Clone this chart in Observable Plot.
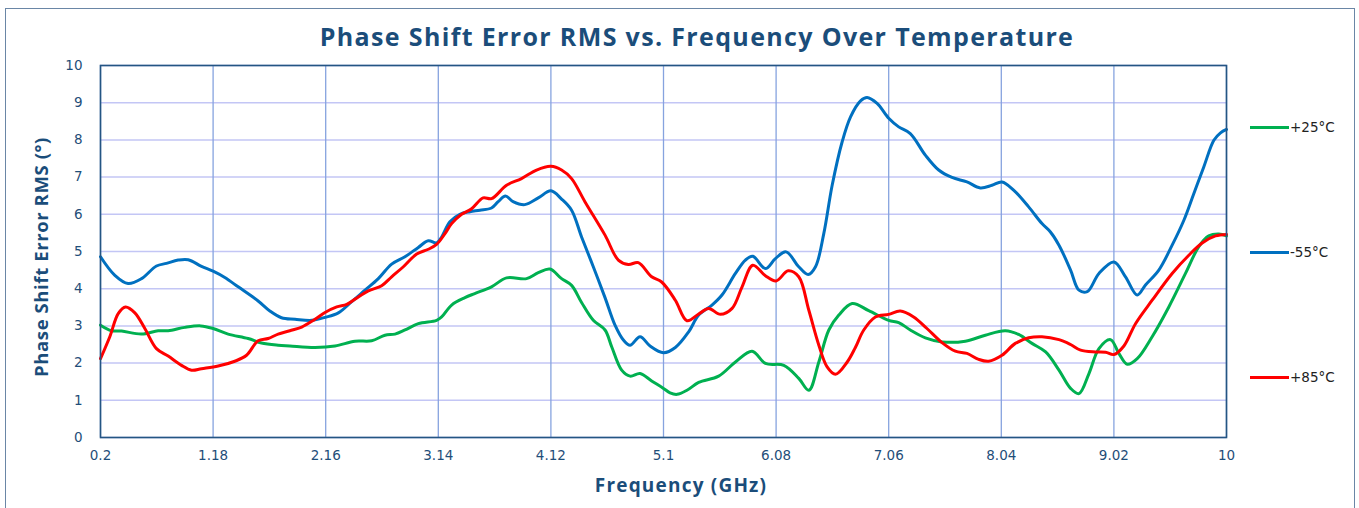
<!DOCTYPE html>
<html>
<head>
<meta charset="utf-8">
<script src="https://cdn.jsdelivr.net/npm/d3@7"></script>
<script src="https://cdn.jsdelivr.net/npm/@observablehq/plot@0.6"></script>
<style>
  html, body { margin: 0; padding: 0; background: #fff; }
  #wrap { position: relative; width: 1359px; height: 508px; overflow: hidden; }
  #border { position: absolute; left: 5px; top: 8px; width: 1350px; height: 540px; border: 1.5px solid #6a86a6; box-sizing: border-box; }
  #title { position: absolute; left: 0; width: 1394px; top: 19px; text-align: center; font-family: "Open Sans", sans-serif; font-weight: 700; font-size: 25px; letter-spacing: 1.35px; color: #1b4d7a; white-space: nowrap; }
  #xlabel { position: absolute; left: 0; width: 1362px; top: 472px; text-align: center; font-family: "Open Sans", sans-serif; font-weight: 700; font-size: 19px; letter-spacing: 1.2px; color: #1b4d7a; }
  #ylabel { position: absolute; left: 40px; top: 257px; transform: translate(-50%, -50%) rotate(-90deg); font-family: "Open Sans", sans-serif; font-weight: 700; font-size: 18.5px; letter-spacing: 0.6px; color: #1b4d7a; white-space: nowrap; }
  #chart { position: absolute; left: 0; top: 0; }
  .leg { position: absolute; left: 1250px; font-family: "DejaVu Sans", sans-serif; font-size: 13.5px; color: #222; display: flex; align-items: center; white-space: nowrap; }
  .leg span.sw { display: inline-block; width: 39px; height: 3px; margin-right: 1px; }
</style>
</head>
<body>
<div id="wrap">
  <div id="border"></div>
  <div id="chart"></div>
  <div id="title"></div>
  <div id="xlabel"></div>
  <div id="ylabel"></div>
  <div id="legend"></div>
</div>
<script>
const chartTitle = "Phase Shift Error RMS vs. Frequency Over Temperature";
const xTitle = "Frequency (GHz)";
const yTitle = "Phase Shift Error RMS (°)";

const xTicks = [0.2, 1.18, 2.16, 3.14, 4.12, 5.1, 6.08, 7.06, 8.04, 9.02, 10];
const xTickLabels = ["0.2", "1.18", "2.16", "3.14", "4.12", "5.1", "6.08", "7.06", "8.04", "9.02", "10"];
const yTicks = [0, 1, 2, 3, 4, 5, 6, 7, 8, 9, 10];

const seriesNames = ["+25°C", "-55°C", "+85°C"];
const seriesColors = ["#00b050", "#0070c0", "#ff0000"];

// +25°C
const freq25 = [0.2,0.296,0.383,0.557,0.702,0.789,0.934,1.073,1.18,1.311,1.485,1.601,1.746,1.848,
  2.067,2.241,2.415,2.56,2.676,2.763,2.85,2.966,3.125,3.169,3.256,3.372,3.457,
  3.603,3.734,3.908,4.01,4.111,4.213,4.3,4.387,4.489,4.591,4.649,4.736,4.809,4.896,4.997,5.1,5.157,
  5.218,5.304,5.406,5.58,5.726,5.871,5.987,6.147,6.277,6.365,6.452,6.539,6.626,6.742,
  6.886,7.06,7.147,7.248,7.379,7.524,7.727,7.901,8.075,8.191,8.307,8.426,
  8.542,8.643,8.716,8.803,8.89,8.991,9.063,9.136,9.223,9.353,9.498,9.643,9.759,9.846,9.933,10];
const val25 = [3.02,2.87,2.86,2.78,2.87,2.87,2.96,3.0,2.93,2.78,2.66,2.54,2.48,2.46,
  2.42,2.46,2.59,2.6,2.75,2.78,2.89,3.06,3.15,3.24,3.56,3.76,3.87,
  4.05,4.29,4.27,4.43,4.53,4.27,4.09,3.63,3.15,2.89,2.44,1.81,1.65,1.72,1.52,1.32,1.2,
  1.16,1.27,1.48,1.65,2.03,2.32,1.99,1.94,1.59,1.27,2.03,2.89,3.29,3.6,
  3.41,3.15,3.09,2.89,2.68,2.57,2.59,2.75,2.87,2.77,2.53,2.3,
  1.81,1.32,1.18,1.72,2.39,2.63,2.26,1.97,2.12,2.71,3.51,4.41,5.13,5.42,5.47,5.42];

// -55°C
const freq55 = [0.2,0.325,0.44,0.557,0.687,0.774,0.876,0.963,1.079,1.18,1.282,1.398,1.572,1.674,1.775,
  1.893,2.038,2.154,2.27,2.386,2.502,2.618,2.734,2.85,2.966,3.053,3.125,3.169,3.241,3.328,3.415,3.502,
  3.603,3.661,3.725,3.791,3.893,4.01,4.12,4.213,4.3,4.387,4.489,4.591,4.678,4.751,4.809,4.896,4.983,5.1,
  5.203,5.319,5.406,5.522,5.609,5.726,5.813,5.877,5.987,6.074,6.167,6.277,6.359,6.423,6.495,6.568,6.655,6.728,
  6.815,6.872,6.959,7.06,7.147,7.248,7.379,7.495,7.611,7.741,7.857,7.959,8.046,8.147,8.278,8.394,
  8.466,8.542,8.643,8.716,8.788,8.89,9.02,9.121,9.223,9.295,9.411,9.527,9.629,9.716,9.803,9.89,9.948,10];
const val55 = [4.86,4.36,4.14,4.27,4.61,4.68,4.77,4.78,4.6,4.47,4.3,4.05,3.67,3.4,3.22,
  3.18,3.15,3.23,3.35,3.65,3.96,4.27,4.66,4.86,5.11,5.29,5.23,5.39,5.8,6.0,6.07,6.11,
  6.17,6.34,6.49,6.34,6.26,6.44,6.63,6.41,6.11,5.39,4.59,3.76,3.02,2.62,2.48,2.71,2.46,2.28,
  2.42,2.84,3.29,3.56,3.83,4.41,4.77,4.87,4.54,4.81,4.99,4.59,4.38,4.59,5.48,6.78,7.95,8.62,
  9.05,9.14,8.98,8.58,8.35,8.17,7.59,7.19,6.99,6.87,6.71,6.78,6.87,6.65,6.2,5.75,
  5.53,5.17,4.5,3.96,3.92,4.41,4.72,4.32,3.83,4.1,4.5,5.17,5.84,6.56,7.28,7.99,8.19,8.28];

// +85°C
const freq85 = [0.2,0.281,0.354,0.418,0.499,0.586,0.687,0.789,0.905,0.992,1.079,1.224,1.369,1.471,1.572,1.659,1.746,1.848,
  1.951,2.067,2.154,2.256,2.343,2.415,2.531,2.647,2.734,2.836,2.952,3.053,3.125,3.198,3.256,3.343,3.43,
  3.53,3.603,3.734,3.864,3.995,4.12,4.213,4.3,4.416,4.591,4.707,4.794,4.881,4.997,5.084,
  5.203,5.304,5.406,5.493,5.595,5.697,5.784,5.877,5.987,6.08,6.185,6.277,6.365,6.452,6.524,6.597,6.699,6.77,
  6.843,6.944,7.06,7.161,7.277,7.393,7.524,7.64,7.741,7.843,7.93,8.046,8.162,8.278,8.394,
  8.542,8.643,8.73,8.861,8.948,9.02,9.107,9.208,9.353,9.527,9.672,9.788,9.904,10];
const val85 = [2.12,2.71,3.33,3.51,3.35,2.93,2.39,2.19,1.94,1.81,1.85,1.92,2.05,2.21,2.6,2.66,2.78,2.87,
  2.97,3.18,3.36,3.51,3.58,3.72,3.94,4.08,4.32,4.59,4.93,5.06,5.19,5.48,5.75,6.0,6.15,
  6.44,6.42,6.78,6.96,7.19,7.29,7.19,6.96,6.34,5.44,4.77,4.65,4.7,4.32,4.18,
  3.69,3.14,3.32,3.47,3.31,3.47,4.05,4.63,4.35,4.21,4.48,4.32,3.42,2.48,1.9,1.7,2.03,2.42,
  2.89,3.24,3.31,3.4,3.24,2.93,2.55,2.32,2.26,2.1,2.05,2.21,2.53,2.68,2.71,
  2.63,2.5,2.35,2.3,2.29,2.23,2.46,3.06,3.69,4.41,4.9,5.23,5.42,5.46];

const freqs = [freq25, freq55, freq85];
const vals = [val25, val55, val85];
const data = [];
seriesNames.forEach((s, k) => freqs[k].forEach((f, i) => data.push({series: s, f, v: vals[k][i]})));

document.getElementById("title").textContent = chartTitle;
document.getElementById("xlabel").textContent = xTitle;
document.getElementById("ylabel").textContent = yTitle;

const legendTop = [127, 252, 377];
const legend = document.getElementById("legend");
seriesNames.forEach((s, k) => {
  const d = document.createElement("div");
  d.className = "leg";
  d.style.top = (legendTop[k] - 9) + "px";
  d.style.height = "18px";
  d.innerHTML = `<span class="sw" style="background:${seriesColors[k]}"></span><span>${s}</span>`;
  legend.appendChild(d);
});

const chart = Plot.plot({
  width: 1359,
  height: 508,
  marginLeft: 100,
  marginRight: 133,
  marginTop: 65,
  marginBottom: 71,
  style: {fontFamily: "DejaVu Sans, sans-serif", fontSize: "13.5px", color: "#1f4e79", background: "transparent", overflow: "visible"},
  x: {domain: [0.2, 10]},
  y: {domain: [0, 10]},
  color: {domain: seriesNames, range: seriesColors},
  marks: [
    Plot.ruleY(yTicks, {stroke: "#c3c6f5", strokeWidth: 1.5}),
    Plot.ruleX(xTicks, {stroke: "#86a3df", strokeWidth: 1.3}),
    Plot.line(data, {x: "f", y: "v", z: "series", stroke: "series", strokeWidth: 3, curve: "catmull-rom"}),
    Plot.frame({stroke: "#245583", strokeWidth: 1.6}),
    Plot.axisX({ticks: xTicks, tickFormat: d => xTickLabels[xTicks.indexOf(d)], tickSize: 0, tickPadding: 13, label: null}),
    Plot.axisY({ticks: yTicks, tickSize: 0, tickPadding: 18, label: null})
  ]
});
document.getElementById("chart").appendChild(chart);
</script>
</body>
</html>
